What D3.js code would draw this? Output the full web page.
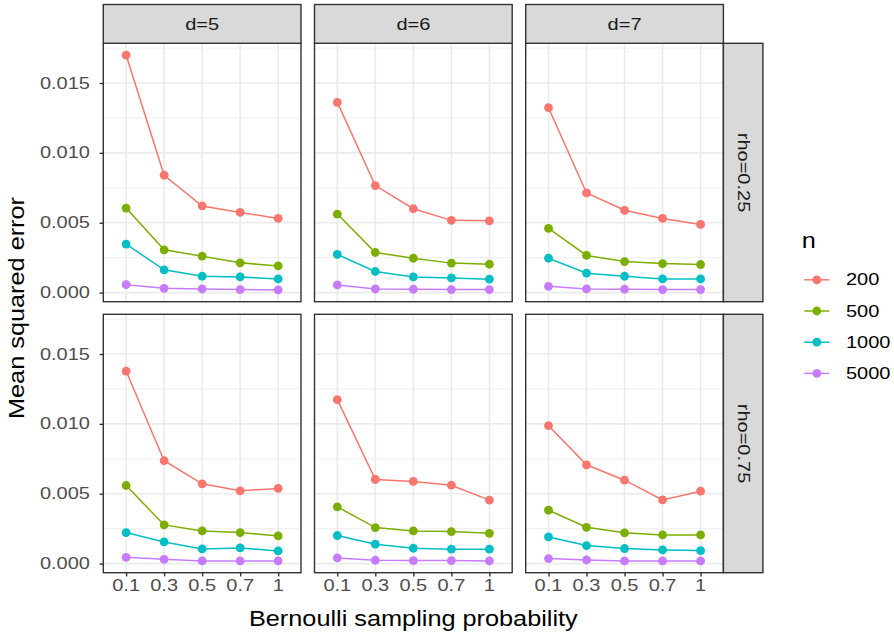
<!DOCTYPE html>
<html>
<head>
<meta charset="utf-8">
<script src="https://cdn.jsdelivr.net/npm/d3@7"></script>
<style>
  html, body { margin: 0; padding: 0; background: #ffffff; }
  svg { display: block; font-family: "Liberation Sans", Arial, Helvetica, sans-serif; }
</style>
</head>
<body>
<svg id="chart" width="894" height="639"></svg>
<script>
// ---------------- data ----------------
const probs = ["0.1", "0.3", "0.5", "0.7", "1"];
const dLevels = ["d=5", "d=6", "d=7"];
const rhoLevels = ["rho=0.25", "rho=0.75"];
const nLevels = ["200", "500", "1000", "5000"];
const nColors = ["#F8766D", "#7CAE00", "#00BFC4", "#C77CFF"];
const yTicks = [0, 0.005, 0.010, 0.015];
const yTickLabels = ["0.000", "0.005", "0.010", "0.015"];

// rows: n = 200, 500, 1000, 5000 ; columns: probs
const mse_rho025_d5 = [
  [0.01700, 0.00840, 0.00620, 0.00574, 0.00531],
  [0.00605, 0.00306, 0.00261, 0.00213, 0.00191],
  [0.00347, 0.00163, 0.00117, 0.00112, 0.00098],
  [0.00057, 0.00031, 0.00026, 0.00022, 0.00019]
];
const mse_rho025_d6 = [
  [0.01361, 0.00766, 0.00600, 0.00517, 0.00514],
  [0.00562, 0.00287, 0.00246, 0.00211, 0.00203],
  [0.00273, 0.00151, 0.00112, 0.00105, 0.00096],
  [0.00055, 0.00026, 0.00024, 0.00022, 0.00022]
];
const mse_rho025_d7 = [
  [0.01323, 0.00713, 0.00589, 0.00531, 0.00488],
  [0.00459, 0.00266, 0.00222, 0.00208, 0.00201],
  [0.00246, 0.00139, 0.00117, 0.00098, 0.00098],
  [0.00045, 0.00026, 0.00024, 0.00022, 0.00022]
];
const mse_rho075_d5 = [
  [0.01378, 0.00736, 0.00571, 0.00521, 0.00538],
  [0.00559, 0.00277, 0.00234, 0.00222, 0.00198],
  [0.00222, 0.00155, 0.00105, 0.00112, 0.00091],
  [0.00045, 0.00031, 0.00019, 0.00019, 0.00019]
];
const mse_rho075_d6 = [
  [0.01173, 0.00602, 0.00588, 0.00561, 0.00454],
  [0.00406, 0.00258, 0.00234, 0.00229, 0.00217],
  [0.00201, 0.00139, 0.00110, 0.00103, 0.00103],
  [0.00041, 0.00024, 0.00022, 0.00022, 0.00019]
];
const mse_rho075_d7 = [
  [0.00987, 0.00707, 0.00597, 0.00456, 0.00518],
  [0.00382, 0.00260, 0.00220, 0.00205, 0.00205],
  [0.00191, 0.00129, 0.00108, 0.00098, 0.00093],
  [0.00036, 0.00026, 0.00019, 0.00019, 0.00019]
];
const panelData = [
  [mse_rho025_d5, mse_rho025_d6, mse_rho025_d7],
  [mse_rho075_d5, mse_rho075_d6, mse_rho075_d7]
];

// ---------------- layout ----------------
const SX_SMALL = 1.25, SX_TITLE = 1.15; // glyph width stretch along the text direction
const panelLeft = 103.3, panelTop = 43.3, panelW = 197.7, panelH = 258.4;
const colStep = 211.2, rowStep = 271.0;
const stripTop = 4.5, stripRightW = 39.5;
const gridCol = "#ebebeb", borderCol = "#333333", stripFill = "#d9d9d9";

const svg = d3.select("#chart");
svg.append("rect").attr("width", 894).attr("height", 639).attr("fill", "#ffffff");

function stext(g, x, y, str, o) {
  o = o || {};
  const sx = o.sx || SX_SMALL;
  return g.append("text")
    .attr("transform", `translate(${x},${y}) rotate(${o.rot || 0}) scale(${sx},1)`)
    .attr("text-anchor", o.anchor || "middle")
    .attr("dy", o.dy || "0.35em")
    .attr("font-size", o.size || 16)
    .attr("fill", o.fill || "#1a1a1a")
    .text(str);
}

// shared y domain with ggplot-like 5% expansion
const allVals = panelData.flat(3);
const yMin = d3.min(allVals), yMax = d3.max(allVals);
const yPad = (yMax - yMin) * 0.05;
const yDomain = [yMin - yPad, yMax + yPad];
const minorTicks = [0.0025, 0.0075, 0.0125, 0.0175].filter(v => v >= yDomain[0] && v <= yDomain[1]);

const lineGen = d3.line();

for (let r = 0; r < 2; r++) {
  for (let c = 0; c < 3; c++) {
    const x0 = panelLeft + c * colStep;
    const y0 = panelTop + r * rowStep;
    const xs = d3.scalePoint().domain(probs).range([x0, x0 + panelW]).padding(0.6);
    const ys = d3.scaleLinear().domain(yDomain).range([y0 + panelH, y0]);
    const g = svg.append("g");

    g.append("rect").attr("x", x0).attr("y", y0).attr("width", panelW).attr("height", panelH)
      .attr("fill", "#ffffff");
    // grid
    g.selectAll(".ymin").data(minorTicks).join("line")
      .attr("x1", x0).attr("x2", x0 + panelW)
      .attr("y1", d => ys(d)).attr("y2", d => ys(d))
      .attr("stroke", gridCol).attr("stroke-width", 0.8);
    g.selectAll(".ymaj").data(yTicks).join("line")
      .attr("x1", x0).attr("x2", x0 + panelW)
      .attr("y1", d => ys(d)).attr("y2", d => ys(d))
      .attr("stroke", gridCol).attr("stroke-width", 1.6);
    g.selectAll(".xmaj").data(probs).join("line")
      .attr("x1", d => xs(d)).attr("x2", d => xs(d))
      .attr("y1", y0).attr("y2", y0 + panelH)
      .attr("stroke", gridCol).attr("stroke-width", 1.6);

    // series
    const data = panelData[r][c];
    data.forEach((vals, k) => {
      const pts = vals.map((v, i) => [xs(probs[i]), ys(v)]);
      g.append("path").attr("d", lineGen(pts)).attr("fill", "none")
        .attr("stroke", nColors[k]).attr("stroke-width", 1.5);
      g.selectAll(null).data(pts).join("circle")
        .attr("cx", d => d[0]).attr("cy", d => d[1]).attr("r", 4.4)
        .attr("fill", nColors[k]);
    });

    // border
    g.append("rect").attr("x", x0).attr("y", y0).attr("width", panelW).attr("height", panelH)
      .attr("fill", "none").attr("stroke", borderCol).attr("stroke-width", 1.4);

    // top strip
    if (r === 0) {
      g.append("rect").attr("x", x0).attr("y", stripTop).attr("width", panelW).attr("height", y0 - stripTop)
        .attr("fill", stripFill).attr("stroke", borderCol).attr("stroke-width", 1.4);
      stext(g, x0 + panelW / 2, (stripTop + y0) / 2, dLevels[c], { size: 16 });
    }
    // right strip
    if (c === 2) {
      g.append("rect").attr("x", x0 + panelW).attr("y", y0).attr("width", stripRightW).attr("height", panelH)
        .attr("fill", stripFill).attr("stroke", borderCol).attr("stroke-width", 1.4);
      stext(g, x0 + panelW + stripRightW / 2, y0 + panelH / 2, rhoLevels[r], { size: 16, rot: 90 });
    }
    // y axis
    if (c === 0) {
      const ax = g.append("g").attr("transform", `translate(${x0},0)`)
        .call(d3.axisLeft(ys).tickValues(yTicks).tickSize(3.7).tickSizeOuter(0).tickFormat(""));
      ax.select(".domain").remove();
      ax.selectAll(".tick line").attr("stroke", borderCol).attr("stroke-width", 1.4);
      yTicks.forEach((v, i) => stext(g, x0 - 13.3, ys(v), yTickLabels[i], { anchor: "end", fill: "#4d4d4d" }));
    }
    // x axis
    if (r === 1) {
      const ax = g.append("g").attr("transform", `translate(0,${y0 + panelH})`)
        .call(d3.axisBottom(xs).tickSize(3.7).tickSizeOuter(0).tickFormat(""));
      ax.select(".domain").remove();
      ax.selectAll(".tick line").attr("stroke", borderCol).attr("stroke-width", 1.4);
      probs.forEach(p => stext(g, xs(p), 590.7, p, { dy: "0", fill: "#4d4d4d" }));
    }
  }
}

// axis titles
const plotMidX = (panelLeft + panelLeft + 2 * colStep + panelW) / 2;
const plotMidY = (panelTop + panelTop + rowStep + panelH) / 2;
stext(svg, plotMidX, 626, "Bernoulli sampling probability", { size: 22, sx: SX_TITLE, dy: "0", fill: "#000000" });
stext(svg, 24, plotMidY, "Mean squared error", { size: 22, sx: SX_TITLE, dy: "0", rot: -90, fill: "#000000" });

// legend
const lg = svg.append("g");
stext(lg, 801.7, 248, "n", { size: 22, sx: SX_TITLE, anchor: "start", dy: "0", fill: "#000000" });
nLevels.forEach((lab, i) => {
  const cy = 279.8 + i * 31.2;
  lg.append("line").attr("x1", 804.3).attr("x2", 829.3).attr("y1", cy).attr("y2", cy)
    .attr("stroke", nColors[i]).attr("stroke-width", 1.5);
  lg.append("circle").attr("cx", 816.8).attr("cy", cy).attr("r", 4.4).attr("fill", nColors[i]);
  stext(lg, 846, cy, lab, { size: 16, anchor: "start", fill: "#000000" });
});
</script>
</body>
</html>
